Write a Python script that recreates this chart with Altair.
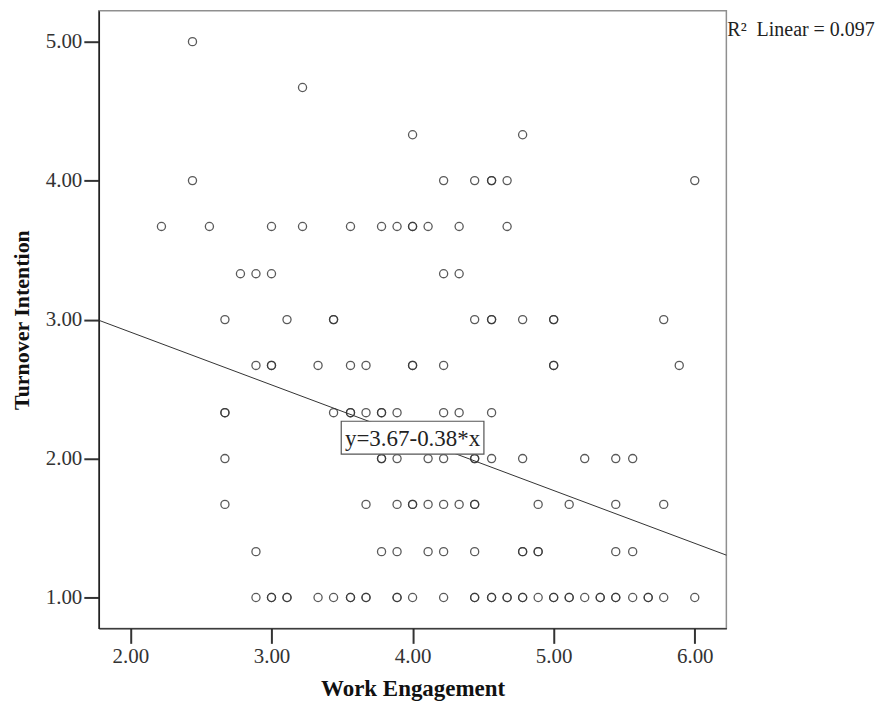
import altair as alt
import pandas as pd

# ---- data (Work Engagement at each Turnover Intention level) ----
turnover_levels = [1.00, 1.33, 1.67, 2.00, 2.33, 2.67, 3.00, 3.33, 3.67, 4.00, 4.33, 4.67, 5.00]

engagement_at_1_00 = [2.89, 3.00, 3.00, 3.11, 3.11, 3.33, 3.44, 3.56, 3.56, 3.67, 3.67, 3.89, 3.89,
                      4.00, 4.22, 4.44, 4.44, 4.56, 4.56, 4.67, 4.67, 4.78, 4.78, 4.89, 5.00, 5.00,
                      5.11, 5.11, 5.22, 5.33, 5.33, 5.44, 5.44, 5.56, 5.67, 5.67, 5.78, 6.00]
engagement_at_1_33 = [2.89, 3.78, 3.89, 4.11, 4.22, 4.44, 4.78, 4.78, 4.89, 4.89, 5.44, 5.56]
engagement_at_1_67 = [2.67, 3.67, 3.89, 4.00, 4.00, 4.11, 4.22, 4.33, 4.44, 4.44, 4.89, 5.11, 5.44, 5.78]
engagement_at_2_00 = [2.67, 3.78, 3.78, 3.89, 4.11, 4.22, 4.44, 4.44, 4.56, 4.78, 5.22, 5.44, 5.56]
engagement_at_2_33 = [2.67, 2.67, 3.44, 3.56, 3.56, 3.67, 3.78, 3.78, 3.89, 4.22, 4.33, 4.56]
engagement_at_2_67 = [2.89, 3.00, 3.00, 3.33, 3.56, 3.67, 4.00, 4.00, 4.22, 5.00, 5.00, 5.89]
engagement_at_3_00 = [2.67, 3.11, 3.44, 3.44, 4.44, 4.56, 4.56, 4.78, 5.00, 5.00, 5.78]
engagement_at_3_33 = [2.78, 2.89, 3.00, 4.22, 4.33]
engagement_at_3_67 = [2.22, 2.56, 3.00, 3.22, 3.56, 3.78, 3.89, 4.00, 4.00, 4.11, 4.33, 4.67]
engagement_at_4_00 = [2.44, 4.22, 4.44, 4.56, 4.56, 4.67, 6.00]
engagement_at_4_33 = [4.00, 4.78]
engagement_at_4_67 = [3.22]
engagement_at_5_00 = [2.44]

engagement_rows = [engagement_at_1_00, engagement_at_1_33, engagement_at_1_67, engagement_at_2_00,
                   engagement_at_2_33, engagement_at_2_67, engagement_at_3_00, engagement_at_3_33,
                   engagement_at_3_67, engagement_at_4_00, engagement_at_4_33, engagement_at_4_67,
                   engagement_at_5_00]

# fit line reported in the chart
intercept = 3.67
slope = -0.38
r_squared = 0.097

x_domain = [1.776, 6.224]
y_domain = [0.778, 5.222]
x_ticks = [2, 3, 4, 5, 6]
y_ticks = [1, 2, 3, 4, 5]

X = "Work Engagement"
Y = "Turnover Intention"

rows = []
for level, xs in zip(turnover_levels, engagement_rows):
    for xv in xs:
        rows.append({X: xv, Y: level})
points_df = pd.DataFrame(rows)

line_df = pd.DataFrame({X: x_domain, Y: [intercept + slope * v for v in x_domain]})
mid_x = (x_domain[0] + x_domain[1]) / 2
label_df = pd.DataFrame({X: [mid_x], Y: [intercept + slope * mid_x],
                         "label": [f"y={intercept:.2f}{slope:+.2f}*x"]})
r2_df = pd.DataFrame({"t": [f"R\u00b2\u00a0 Linear = {r_squared:.3f}"]})

FONT = "Liberation Serif"

xenc = alt.X(f"{X}:Q", scale=alt.Scale(domain=x_domain, nice=False, zero=False),
             axis=alt.Axis(values=x_ticks, format=".2f", title=X,
                           titleY=67, titleBaseline="alphabetic"))
yenc = alt.Y(f"{Y}:Q", scale=alt.Scale(domain=y_domain, nice=False, zero=False),
             axis=alt.Axis(values=y_ticks, format=".2f", title=Y, titleFontSize=22,
                           titleX=-70, titleY=309.5, titleBaseline="alphabetic", titleAngle=-90))

points = alt.Chart(points_df).mark_point(
    shape="circle", filled=False, size=66, color="#363636", strokeWidth=1.3, opacity=0.82
).encode(x=xenc, y=yenc)

fit_line = alt.Chart(line_df).mark_line(color="#333333", strokeWidth=1).encode(x=xenc, y=yenc)

box_path = "M-1,-0.2308 L1,-0.2308 L1,0.2308 L-1,0.2308 Z"
label_box = alt.Chart(label_df).mark_point(
    shape=box_path, size=143 ** 2, filled=True, fill="white", stroke="#555555",
    strokeWidth=1.2, opacity=1
).encode(x=xenc, y=yenc)

label_text = alt.Chart(label_df).mark_text(
    font=FONT, fontSize=23, color="#222222", align="center", baseline="middle", dy=1
).encode(x=xenc, y=yenc, text="label:N")

r2_text = alt.Chart(r2_df).mark_text(
    font=FONT, fontSize=20, color="#222222", align="left", baseline="alphabetic"
).encode(x=alt.value(630), y=alt.value(25), text="t:N")

chart = alt.layer(points, fit_line, label_box, label_text, r2_text).properties(
    width=629, height=619,
    autosize=alt.AutoSizeParams(type="none"),
    padding={"left": 91, "top": 2, "right": 159, "bottom": 73},
    background="white",
).configure_view(
    stroke="#8f8f8f", strokeWidth=1.5
).configure_axis(
    grid=False,
    domainColor="#222222", domainWidth=1.5,
    tickColor="#333333", tickWidth=2, tickSize=15,
    labelFont=FONT, labelFontSize=21, labelColor="#333333", labelPadding=2,
    titleFont=FONT, titleFontSize=23, titleFontWeight="bold", titleColor="#111111",
)

chart.save("out.html", embed_options={"renderer": "svg", "actions": False})
